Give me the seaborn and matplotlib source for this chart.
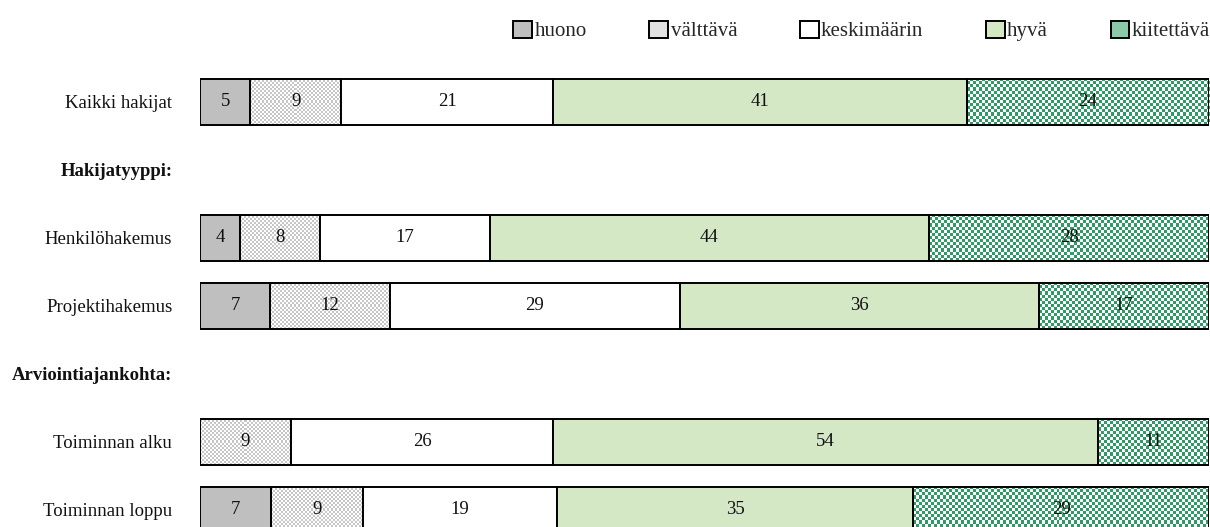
import numpy as np
import pandas as pd
import matplotlib
matplotlib.use("Agg")
import matplotlib.pyplot as plt
from matplotlib.patches import Patch
import seaborn as sns

# ---- data ----
categories = ["Kaikki hakijat", "Hakijatyyppi:", "Henkilöhakemus", "Projektihakemus",
              "Arviointiajankohta:", "Toiminnan alku", "Toiminnan loppu"]
headers = ["Hakijatyyppi:", "Arviointiajankohta:"]
rows = ["Kaikki hakijat", "Henkilöhakemus", "Projektihakemus", "Toiminnan alku", "Toiminnan loppu"]
series_names = ["huono", "välttävä", "keskimäärin", "hyvä", "kiitettävä"]
huono = [5, 4, 7, 0, 7]
valttava = [9, 8, 12, 9, 9]
keskimaarin = [21, 17, 29, 26, 19]
hyva = [41, 44, 36, 54, 35]
kiitettava = [24, 28, 17, 11, 29]
series_values = [huono, valttava, keskimaarin, hyva, kiitettava]

# ---- style ----
sns.set_style("white")
plt.rcParams["font.family"] = ["Liberation Serif", "DejaVu Serif"]

colors = {"huono": "#BFBFBF", "välttävä": "#FFFFFF", "keskimäärin": "#FFFFFF",
          "hyvä": "#D4E8C6", "kiitettävä": "#FFFFFF"}
checker = {"välttävä": ("#C6C6C6", 2.0), "kiitettävä": ("#2E9A64", 3.0)}
legend_colors = {"huono": "#BFBFBF", "välttävä": "#E2E2E2", "keskimäärin": "#FFFFFF",
                 "hyvä": "#D4E8C6", "kiitettävä": "#8CC9A8"}

W, H = 1210, 527
fig = plt.figure(figsize=(W / 100, H / 100), dpi=100)
ymin_d, ymax_d = -0.6, 6.35
pxu = 68.0
top_px = 102 - 0.6 * pxu
h_px = (ymax_d - ymin_d) * pxu
ax = fig.add_axes([200 / W, (H - top_px - h_px) / H, 1009 / W, h_px / H])

totals = np.sum(np.array(series_values, dtype=float), axis=0)
cum = np.zeros(len(rows))
seg_info = []
for name, vals in zip(series_names, series_values):
    vals = np.array(vals, dtype=float)
    widths = vals / totals * 100.0
    df = pd.DataFrame({"cat": rows, "val": widths})
    n_before = len(ax.patches)
    sns.barplot(data=df, x="val", y="cat", order=categories, orient="h",
                color=colors[name], saturation=1, width=0.68, errorbar=None,
                left=cum.copy(), edgecolor="black", linewidth=1.4, ax=ax)
    new_patches = ax.patches[n_before:]
    for p, v in zip(new_patches, vals):
        seg_info.append((name, p, v))
    cum = cum + widths

ax.set_xlim(0, 100)
ax.set_ylim(ymax_d, ymin_d)

# checker textures
fig.canvas.draw()
for name, p, v in seg_info:
    if name in checker and v > 0:
        col, cell = checker[name]
        x0, y0 = p.get_x(), p.get_y()
        x1, y1 = x0 + p.get_width(), y0 + p.get_height()
        (px0, py0), (px1, py1) = ax.transData.transform([(x0, y0), (x1, y1)])
        nx = max(1, int(round(abs(px1 - px0) / cell)))
        ny = max(1, int(round(abs(py1 - py0) / cell)))
        ii, jj = np.indices((ny, nx))
        pat = ((ii + jj) % 2).astype(float)
        rgb = np.array(matplotlib.colors.to_rgb(col))
        img = np.ones((ny, nx, 3))
        img[pat == 1] = rgb
        p.set_facecolor("none")
        im = ax.imshow(img, extent=(x0, x1, y1, y0), aspect="auto",
                       interpolation="nearest", zorder=p.get_zorder() - 0.1)
        im.set_clip_path(p)

# value labels
for name, p, v in seg_info:
    if v > 0:
        ax.text(p.get_x() + p.get_width() / 2, p.get_y() + p.get_height() / 2,
                f"{int(v)}", ha="center", va="center", fontsize=13.5, color="#111111")

ax.set_xlim(0, 100)
ax.set_ylim(ymax_d, ymin_d)
ax.set_xlabel("")
ax.set_ylabel("")
ax.set_xticks([])
for s in ax.spines.values():
    s.set_visible(False)
ax.tick_params(axis="y", length=0, pad=20, labelsize=13.5)
ax.set_yticks(range(len(categories)))
ax.set_yticklabels(categories)
for t in ax.get_yticklabels():
    t.set_color("#111111")
    if t.get_text() in headers:
        t.set_fontweight("bold")

handles = [Patch(facecolor=legend_colors[n], edgecolor="black", linewidth=1.4, label=n)
           for n in series_names]
fig.legend(handles=handles, loc="center right", bbox_to_anchor=(1210 / W, 1 - 31 / H),
           ncol=5, frameon=False, fontsize=15, handlelength=0.9, handleheight=0.9,
           handletextpad=0.12, columnspacing=3.0, borderaxespad=0, borderpad=0)

fig.savefig("out.png", dpi=100)
